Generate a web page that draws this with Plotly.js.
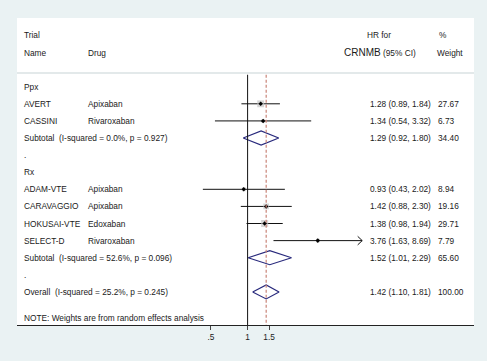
<!DOCTYPE html>
<html>
<head>
<meta charset="utf-8">
<script src="https://cdn.plot.ly/plotly-3.0.1.min.js"></script>
<style>html,body{margin:0;padding:0;background:#EAF2F3;}#chart{width:487px;height:361px;}</style>
</head>
<body>
<div id="chart"></div>
<script>
// ---- data ----
const groupNames = ['Ppx', 'Rx'];
const studyGroup = [0, 0, 1, 1, 1, 1];
const studyNames = ['AVERT', 'CASSINI', 'ADAM-VTE', 'CARAVAGGIO', 'HOKUSAI-VTE', 'SELECT-D'];
const studyDrugs = ['Apixaban', 'Rivaroxaban', 'Apixaban', 'Apixaban', 'Edoxaban', 'Rivaroxaban'];
const studyHR = [1.28, 1.34, 0.93, 1.42, 1.38, 3.76];
const studyLo = [0.89, 0.54, 0.43, 0.88, 0.98, 1.63];
const studyHi = [1.84, 3.32, 2.02, 2.30, 1.94, 8.69];
const studyW = [27.67, 6.73, 8.94, 19.16, 29.71, 7.79];
const subLabels = ['Subtotal  (I-squared = 0.0%, p = 0.927)', 'Subtotal  (I-squared = 52.6%, p = 0.096)'];
const subHR = [1.29, 1.52];
const subLo = [0.92, 1.01];
const subHi = [1.80, 2.29];
const subW = [34.40, 65.60];
const overallLabel = 'Overall  (I-squared = 25.2%, p = 0.245)';
const overallHR = 1.42, overallLo = 1.10, overallHi = 1.81, overallW = 100.00;
const noteText = 'NOTE: Weights are from random effects analysis';
const tickVals = [0.5, 1, 1.5];
const tickText = ['.5', '1', '1.5'];
const arrowMax = 8.69; // CIs reaching this are drawn with an arrow

// ---- layout helpers ----
const W = 487, H = 361;
const mL = 17, mR = 13, mT = 18, mB = 36;
const pw = W - mL - mR;
const pxPerLn = 53.0, oneX = 247.6;
const xr = [Math.log10(Math.exp(-(oneX - mL) / pxPerLn)), Math.log10(Math.exp((W - mR - oneX) / pxPerLn))];
const yTop = -4.018, yBot = 13.935;
const sepRow = -0.8;
const px = p => (p - mL) / pw;
const colName = px(22.3), colDrug = px(86), colHR = px(368.3), colW = px(435.5);
const fontFam = 'Liberation Sans, Arial, sans-serif';
const fs = 8.3;
const txtCol = '#1a1a1a';
const navy = '#28297C';

const annotations = [];
function txt(x, y, s, anchor, size) {
  annotations.push({xref: 'paper', yref: 'y', x: x, y: y, text: s, showarrow: false,
    xanchor: anchor || 'left', yanchor: 'middle', font: {family: fontFam, size: size || fs, color: txtCol}});
}
const fmtCI = (h, l, u) => h.toFixed(2) + ' (' + l.toFixed(2) + ', ' + u.toFixed(2) + ')';

// header
txt(colName, -3, 'Trial');
txt(colName, -2, 'Name');
txt(colDrug, -2, 'Drug');
txt(px(378.7), -3, 'HR for', 'center');
txt(px(380.3), -2, '<span style="font-size:10px">CRNMB</span> (95% CI)', 'center');
txt(px(436.7), -3, '%');
txt(px(435), -2, 'Weight');

// build rows
let row = 0;
const ciX = [], ciY = [], boxX = [], boxY = [], boxS = [], ptX = [], ptY = [];
const diamonds = [];
const arrows = [];
groupNames.forEach((g, gi) => {
  txt(colName, row, g); row++;
  studyNames.forEach((n, i) => {
    if (studyGroup[i] !== gi) return;
    txt(colName, row, n);
    txt(colDrug, row, studyDrugs[i]);
    txt(colHR, row, fmtCI(studyHR[i], studyLo[i], studyHi[i]));
    txt(colW, row, studyW[i].toFixed(2));
    ciX.push(studyLo[i], Math.min(studyHi[i], arrowMax), null);
    ciY.push(row, row, null);
    if (studyHi[i] >= arrowMax) arrows.push({x: Math.min(studyHi[i], arrowMax), y: row});
    boxX.push(studyHR[i]); boxY.push(row); boxS.push(1.3 * Math.sqrt(studyW[i]));
    ptX.push(studyHR[i]); ptY.push(row);
    row++;
  });
  txt(colName, row, subLabels[gi]);
  txt(colHR, row, fmtCI(subHR[gi], subLo[gi], subHi[gi]));
  txt(colW, row, subW[gi].toFixed(2));
  diamonds.push({h: subHR[gi], l: subLo[gi], u: subHi[gi], y: row});
  row++;
  txt(colName, row, '.'); row++;
});
txt(colName, row, overallLabel);
txt(colHR, row, fmtCI(overallHR, overallLo, overallHi));
txt(colW, row, overallW.toFixed(2));
diamonds.push({h: overallHR, l: overallLo, u: overallHi, y: row});
txt(colName, row + 1.5, noteText);

const traces = [];
traces.push({x: ciX, y: ciY, mode: 'lines', line: {color: '#111', width: 1}, hoverinfo: 'skip'});
traces.push({x: boxX, y: boxY, mode: 'markers', marker: {symbol: 'square', color: '#C4C4C4', size: boxS, line: {width: 0}}, hoverinfo: 'skip'});
traces.push({x: ptX, y: ptY, mode: 'markers', marker: {symbol: 'diamond', color: '#000', size: 3.5}, hoverinfo: 'skip'});
const dh = 0.41;
diamonds.forEach(d => {
  traces.push({x: [d.l, d.h, d.u, d.h, d.l], y: [d.y, d.y - dh, d.y, d.y + dh, d.y], mode: 'lines',
    fill: 'toself', fillcolor: 'white', line: {color: navy, width: 1.2}, hoverinfo: 'skip'});
});
arrows.forEach(a => {
  const back = a.x * Math.exp(-4.5 / pxPerLn);
  traces.push({x: [back, a.x, back], y: [a.y - 0.25, a.y, a.y + 0.25], mode: 'lines',
    line: {color: '#111', width: 1}, hoverinfo: 'skip'});
});

const shapes = [
  {type: 'line', xref: 'paper', yref: 'y', x0: 0, x1: 1, y0: sepRow, y1: sepRow, line: {color: '#E3E9EA', width: 2}},
  {type: 'line', xref: 'x', yref: 'y', x0: 1, x1: 1, y0: sepRow + 0.1, y1: yBot, line: {color: '#111', width: 1}},
  {type: 'line', xref: 'x', yref: 'y', x0: overallHR, x1: overallHR, y0: sepRow + 0.1, y1: yBot, line: {color: '#C98478', width: 1.2, dash: '3px,2px'}}
];

const layout = {
  width: W, height: H,
  margin: {l: mL, r: mR, t: mT, b: mB, pad: 0},
  paper_bgcolor: '#EAF2F3', plot_bgcolor: 'white',
  showlegend: false,
  xaxis: {type: 'log', range: xr, showgrid: false, zeroline: false, showline: true, linecolor: '#222', linewidth: 1,
    tickvals: tickVals, ticktext: tickText, ticks: 'outside', ticklen: 4, tickcolor: '#444', tickwidth: 1,
    tickfont: {family: fontFam, size: fs, color: txtCol}, fixedrange: true},
  yaxis: {range: [yBot, yTop], visible: false, showgrid: false, zeroline: false, fixedrange: true},
  shapes: shapes, annotations: annotations
};
Plotly.newPlot('chart', traces, layout, {staticPlot: true, displayModeBar: false});
</script>
</body>
</html>
